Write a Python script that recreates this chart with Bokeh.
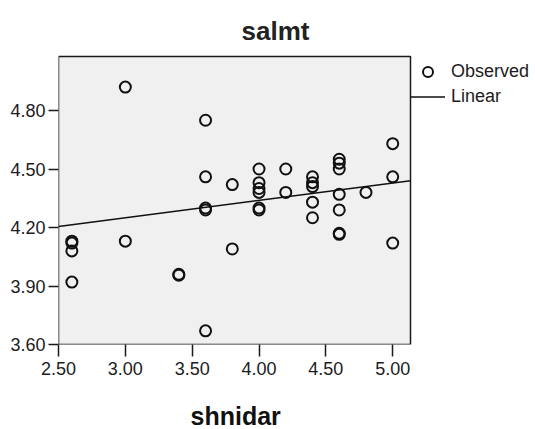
from bokeh.plotting import figure
from bokeh.models import Range1d, FixedTicker, NumeralTickFormatter, Label, Legend, LegendItem, Title
from bokeh.embed import file_html
from bokeh.resources import INLINE
import numpy as np

# ---- data ----
shnidar = [2.6, 2.6, 2.6, 2.6,
           3.0, 3.0,
           3.4, 3.4,
           3.6, 3.6, 3.6, 3.6, 3.6,
           3.8, 3.8,
           4.0, 4.0, 4.0, 4.0, 4.0, 4.0,
           4.2, 4.2,
           4.4, 4.4, 4.4, 4.4, 4.4,
           4.6, 4.6, 4.6, 4.6, 4.6, 4.6, 4.6,
           4.8,
           5.0, 5.0, 5.0]
salmt = [4.13, 4.12, 4.08, 3.92,
         4.92, 4.13,
         3.96, 3.955,
         4.75, 4.46, 4.30, 4.29, 3.67,
         4.42, 4.09,
         4.50, 4.43, 4.40, 4.38, 4.30, 4.29,
         4.50, 4.38,
         4.46, 4.43, 4.41, 4.33, 4.25,
         4.55, 4.53, 4.50, 4.37, 4.29, 4.17, 4.165,
         4.38,
         4.63, 4.46, 4.12]

FIT_INTERCEPT = 3.983
FIT_SLOPE = 0.089

x_ticks = [2.5, 3.0, 3.5, 4.0, 4.5, 5.0]
y_ticks = [3.6, 3.9, 4.2, 4.5, 4.8]

# visible plot area (data units)
X_MIN, X_MAX = 2.5, 5.133
Y_MIN, Y_MAX = 3.6, 5.077

# pixel geometry of the visible plot area on the canvas
W, H = 535, 429
AREA_L, AREA_R, AREA_T, AREA_B = 58, 410, 56, 344
KX = (AREA_R - AREA_L) / (X_MAX - X_MIN)
KY = (AREA_B - AREA_T) / (Y_MAX - Y_MIN)

# the Bokeh frame spans from the plot area to the canvas's right and top edges
FRAME_X_END = X_MIN + (W - AREA_L) / KX
FRAME_Y_END = Y_MIN + AREA_B / KY

FONT = "Liberation Sans"
TXT = "#1c1c1c"
INK = "#1a1a1a"

p = figure(width=W, height=H, output_backend="svg", toolbar_location=None,
           x_range=Range1d(X_MIN, FRAME_X_END), y_range=Range1d(Y_MIN, FRAME_Y_END),
           min_border_left=AREA_L, min_border_right=0,
           min_border_top=0, min_border_bottom=H - AREA_B)
p.title.visible = False
p.background_fill_color = "white"
p.border_fill_color = "white"
p.outline_line_color = None
p.grid.visible = False


def px_to_x(px):
    return X_MIN + (px - AREA_L) / KX


def px_to_y(py):
    return Y_MIN + (AREA_B - py) / KY


# plot area background and border
p.quad(left=[X_MIN], right=[X_MAX], bottom=[Y_MIN], top=[Y_MAX],
       fill_color="#f0f0f0", line_color=INK, line_width=1.5)

for ax, ticks, tick_out, standoff in ((p.xaxis[0], x_ticks, 12, 5), (p.yaxis[0], y_ticks, 10, 3)):
    ax.ticker = FixedTicker(ticks=ticks)
    ax.formatter = NumeralTickFormatter(format="0.00")
    ax.major_label_text_font = FONT
    ax.major_label_text_font_size = "18px"
    ax.major_label_text_color = TXT
    ax.axis_line_color = None
    ax.major_tick_line_color = INK
    ax.major_tick_line_width = 1.5
    ax.major_tick_out = tick_out
    ax.major_tick_in = 0
    ax.minor_tick_out = 0
    ax.minor_tick_in = 0
    ax.major_label_standoff = standoff

r_obs = p.scatter(shnidar, salmt, marker="circle", size=11, fill_color=None,
                  line_color="#111111", line_width=2)

fit_x = np.array([X_MIN, X_MAX])
fit_y = FIT_INTERCEPT + FIT_SLOPE * fit_x
r_lin = p.line(fit_x, fit_y, line_color="#111111", line_width=1.5)

LEG_PAD = 1
LEG_ROW = 25
LEG_TOP = 57
legend = Legend(items=[LegendItem(label="Observed", renderers=[r_obs]),
                       LegendItem(label="Linear", renderers=[r_lin])],
                location=(AREA_R - AREA_L, AREA_B - (LEG_TOP + 2 * LEG_ROW + 2 * LEG_PAD)),
                orientation="vertical",
                glyph_width=35, glyph_height=LEG_ROW, label_height=LEG_ROW,
                spacing=0, padding=LEG_PAD, margin=0, label_standoff=6,
                border_line_color=None, background_fill_alpha=0,
                label_text_font=FONT, label_text_font_size="18px",
                label_text_color=TXT)
p.add_layout(legend, "center")

p.add_layout(Label(x=px_to_x(275), y=px_to_y(30), text="salmt",
                   text_align="center", text_baseline="alphabetic",
                   text_font=FONT, text_font_style="bold",
                   text_font_size="26px", text_color="#222222"))

# spacer between the x axis and its title
p.add_layout(Title(text=" ", text_font_size="1px", standoff=19), "below")
p.add_layout(Title(text="shnidar", align="left", offset=132,
                   text_font=FONT, text_font_style="bold",
                   text_font_size="25px", text_color="#111111",
                   standoff=0), "below")

open("out.html", "w").write(file_html(p, INLINE))
